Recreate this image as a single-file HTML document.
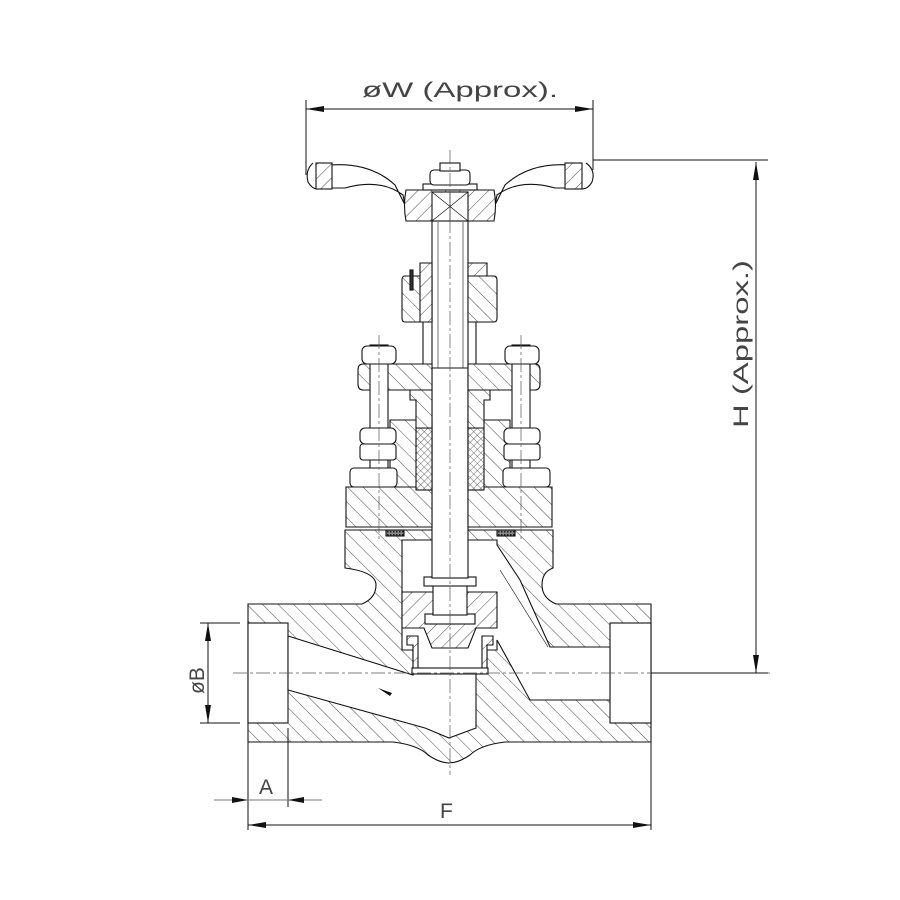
<!DOCTYPE html>
<html><head><meta charset="utf-8"><style>html,body{margin:0;padding:0;background:#fff}svg{display:block}</style></head>
<body>
<svg width="900" height="900" viewBox="0 0 900 900" xmlns="http://www.w3.org/2000/svg">
<defs>
<pattern id="h1" width="10" height="10" patternUnits="userSpaceOnUse" patternTransform="rotate(45)"><rect width="10" height="10" fill="#fff"/><line x1="0" y1="0" x2="0" y2="10" stroke="#333" stroke-width="0.9"/></pattern>
<pattern id="h2" width="11" height="11" patternUnits="userSpaceOnUse" patternTransform="rotate(-45)"><rect width="11" height="11" fill="#fff"/><line x1="0" y1="0" x2="0" y2="11" stroke="#333" stroke-width="0.9"/></pattern>
<pattern id="x1" width="5" height="5" patternUnits="userSpaceOnUse" patternTransform="rotate(45)"><rect width="5" height="5" fill="#fff"/><line x1="0" y1="0" x2="0" y2="5" stroke="#333" stroke-width="0.7"/><line x1="0" y1="0" x2="5" y2="0" stroke="#333" stroke-width="0.7"/></pattern>
<pattern id="g1" width="3" height="3" patternUnits="userSpaceOnUse"><rect width="3" height="3" fill="#888"/><rect width="1.5" height="1.5" fill="#222"/></pattern>
</defs>
<g fill="none" stroke="#111" stroke-width="1.1">
<path fill="url(#h2)" d="M345,530 L553,530 L553,568 Q542,572 542,585 Q542,598 556,604 L651,604 L651,742 L505,742 Q480,745 470,755 Q458,763 449,763 Q440,763 428,755 Q418,745 393,742 L248,742 L248,604 L362,604 Q376,598 376,585 Q376,572 345,568 Z"/>
<rect x="248" y="623" width="40" height="100" fill="#fff"/>
<rect x="610" y="623" width="41" height="100" fill="#fff"/>
<path fill="#fff" d="M288,636 L413,675 L413,673 L476,673 L476,728 L449,738 L425,728 L288,690 Z"/>
<path fill="#fff" d="M402,540 L497,540 L497,545 L520,580 L550,647 L610,647 L610,700 L530,700 L497,640 L497,650 L487,650 L487,673 L413,673 L413,650 L402,650 Z"/>
<line x1="500" y1="570" x2="548" y2="647" stroke-width="0.6"/>
<path fill="url(#h1)" d="M402,592 L497,592 L497,628 L476,628 L468,648 L432,648 L424,628 L402,628 Z"/>
<path fill="url(#h1)" d="M407,636 L418,636 L418,672 L413,672 L413,645 L407,645 Z"/>
<path fill="url(#h1)" d="M493,636 L482,636 L482,672 L487,672 L487,645 L493,645 Z"/>
<rect x="412" y="668" width="76" height="6" fill="#fff"/>
<rect x="425" y="614" width="50" height="10" fill="#fff"/>
<rect x="433" y="585" width="34" height="30" fill="#fff"/>
<rect x="424" y="577" width="52" height="9" fill="#fff"/>
<rect x="432" y="220" width="36" height="358" fill="#fff"/>
<line x1="438" y1="222" x2="438" y2="368" stroke-width="0.6"/><line x1="463" y1="222" x2="463" y2="368" stroke-width="0.6"/>
<line x1="432" y1="368" x2="468" y2="368"/>
<path fill="url(#h2)" d="M346,487 L432,487 L432,527 L346,527 Z"/>
<path fill="url(#h2)" d="M468,487 L552,487 L552,527 L468,527 Z"/>
<rect x="386" y="530" width="18" height="6" fill="url(#g1)"/>
<rect x="497" y="530" width="18" height="6" fill="url(#g1)"/>
<path fill="url(#h2)" d="M390,420 L432,420 L432,487 L390,487 Z"/>
<path fill="url(#h2)" d="M468,420 L510,420 L510,487 L468,487 Z"/>
<rect x="416" y="428" width="16" height="62" fill="url(#x1)"/>
<rect x="468" y="428" width="16" height="62" fill="url(#x1)"/>
<path fill="url(#h2)" d="M410,390 L432,390 L432,428 L416,428 L416,400 L410,400 Z"/>
<path fill="url(#h2)" d="M490,390 L468,390 L468,428 L484,428 L484,400 L490,400 Z"/>
<path fill="url(#h2)" d="M363,364 L432,364 L432,390 L363,390 Q358,390 358,384 L358,370 Q358,364 363,364 Z"/>
<path fill="url(#h2)" d="M468,364 L535,364 Q540,364 540,370 L540,384 Q540,390 535,390 L468,390 Z"/>
<line x1="423" y1="322" x2="423" y2="364"/><line x1="476" y1="322" x2="476" y2="364"/>
<path fill="url(#h2)" d="M405,276 L432,276 L432,322 L405,322 Q402,322 402,318 L402,280 Q402,276 405,276 Z"/>
<path fill="url(#h1)" d="M420,263 L432,263 L432,322 L420,322 Z"/>
<path fill="url(#h2)" d="M468,276 L494,276 Q497,276 497,280 L497,318 Q497,322 494,322 L468,322 Z"/>
<path fill="url(#h1)" d="M468,263 L487,263 L487,276 L468,276 Z"/>
<rect x="410" y="270" width="3" height="20" fill="#333"/>
<g fill="#fff">
<rect x="370" y="345" width="18" height="125"/>
<rect x="512" y="345" width="18" height="125"/>
<rect x="362" y="346" width="34" height="18" rx="5"/>
<rect x="505" y="346" width="34" height="18" rx="5"/>
<rect x="360" y="428" width="36" height="16" rx="5"/>
<rect x="504" y="428" width="36" height="16" rx="5"/>
<rect x="360" y="444" width="36" height="16" rx="3"/>
<rect x="504" y="444" width="36" height="16" rx="3"/>
<rect x="350" y="468" width="47" height="19" rx="4"/>
<rect x="503" y="468" width="47" height="19" rx="4"/>
</g>
<path fill="#fff" d="M330,165 Q370,162 395,185 L405,205 L403,195 Q380,178 345,188 L330,188 Z"/>
<path fill="#fff" d="M570,165 Q530,162 505,185 L495,205 L497,195 Q520,178 555,188 L570,188 Z"/>
<path d="M313,163 Q305,170 308,182 Q312,189 318,189"/>
<path d="M586,163 Q596,170 592,182 Q588,189 582,189"/>
<rect x="316" y="163" width="16" height="26" fill="url(#h1)"/>
<rect x="565" y="163" width="17" height="26" fill="url(#h1)"/>
<path fill="url(#h1)" d="M406,190 L494,190 Q497,205 494,221 L406,221 Q403,205 406,190 Z"/>
<rect x="432" y="192" width="36" height="29" fill="#fff"/>
<path d="M432,192 L468,221 M468,192 L432,221 M450,192 L450,221" stroke-width="0.7"/>
<rect x="423" y="184" width="54" height="6" fill="#fff"/>
<rect x="430" y="170" width="40" height="15" rx="4" fill="#fff"/>
<rect x="440" y="163" width="20" height="8" fill="#fff"/>
</g>
<g stroke="#555" stroke-width="0.7" stroke-dasharray="14,3,3,3" fill="none">
<line x1="450" y1="150" x2="450" y2="775"/>
<line x1="233" y1="673" x2="770" y2="673"/>
<line x1="379" y1="335" x2="379" y2="540"/>
<line x1="521" y1="335" x2="521" y2="540"/>
</g>
<g stroke="#111" stroke-width="1" fill="none">
<line x1="306" y1="100" x2="306" y2="175"/><line x1="593" y1="100" x2="593" y2="170"/>
<line x1="306" y1="109" x2="593" y2="109"/>
<line x1="593" y1="160" x2="768" y2="160"/>
<line x1="651" y1="673" x2="768" y2="673"/>
<line x1="756" y1="162" x2="756" y2="673"/>
<line x1="200" y1="623" x2="240" y2="623"/><line x1="200" y1="723" x2="240" y2="723"/>
<line x1="208" y1="623" x2="208" y2="723"/>
<line x1="248" y1="742" x2="248" y2="830"/><line x1="651" y1="742" x2="651" y2="830"/>
<line x1="288" y1="728" x2="288" y2="807"/>
<line x1="214" y1="800" x2="322" y2="800" stroke="#777"/>
<line x1="248" y1="825" x2="651" y2="825"/>
</g>
<g fill="#111">
<path d="M306,109 l18,-3 v6 z"/><path d="M593,109 l-18,-3 v6 z"/>
<path d="M756,162 l-3,18 h6 z"/><path d="M756,673 l-3,-18 h6 z"/>
<path d="M208,623 l-3,18 h6 z"/><path d="M208,723 l-3,-18 h6 z"/>
<path d="M248,800 l-16,-3 v6 z"/><path d="M288,800 l16,-3 v6 z"/>
<path d="M248,825 l18,-3 v6 z"/><path d="M651,825 l-18,-3 v6 z"/>
<path d="M378,688 l14,5 l-2,3 z"/>
</g>
<g font-family="Liberation Sans, sans-serif" fill="#444" font-size="21">
<text x="362" y="97" textLength="196" lengthAdjust="spacingAndGlyphs">øW  (Approx).</text>
<text x="259" y="794" font-size="21">A</text>
<text x="440" y="818" font-size="21">F</text>
<text transform="translate(748,428) rotate(-90)" textLength="168" lengthAdjust="spacingAndGlyphs">H  (Approx.)</text>
<text transform="translate(204,694) rotate(-90)" font-size="21">øB</text>
</g>
</svg>
</body></html>
